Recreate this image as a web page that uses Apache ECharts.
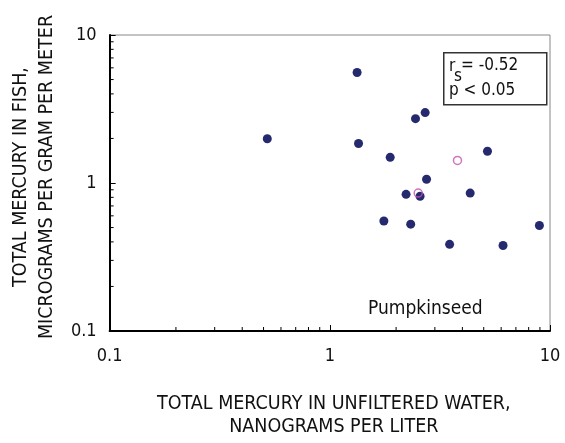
<!DOCTYPE html>
<html><head><meta charset="utf-8">
<script src="https://cdn.jsdelivr.net/npm/echarts@6/dist/echarts.min.js"></script>
<style>html,body{margin:0;padding:0;background:#fff}#c{width:565px;height:443px}</style>
</head><body><div id="c"></div>
<script>
const waterHgFilled = [1.33, 0.52, 1.35, 2.45, 2.71, 1.88, 5.2, 2.75, 2.22, 2.57, 4.34, 1.76, 2.33, 3.50, 6.12, 8.95];
const fishHgFilled  = [5.58, 1.99, 1.85, 2.72, 2.99, 1.49, 1.64, 1.06, 0.838, 0.813, 0.855, 0.554, 0.527, 0.385, 0.378, 0.516];
const waterHgOpen = [3.80, 2.52];
const fishHgOpen  = [1.42, 0.855];
const minorTickValues = [0.2,0.3,0.4,0.5,0.6,0.7,0.8,0.9,2,3,4,5,6,7,8,9];
const xTitle = 'TOTAL MERCURY IN UNFILTERED WATER,\nNANOGRAMS PER LITER';
const yTitle = 'TOTAL MERCURY IN FISH,\nMICROGRAMS PER GRAM PER METER';
const speciesLabel = 'Pumpkinseed';

const FONT = "'Liberation Sans Narrow','Arial Narrow','DejaVu Sans Condensed',sans-serif";
const chart = echarts.init(document.getElementById('c'), null, {renderer:'canvas'});
const zip = (a,b)=>a.map((v,i)=>[v,b[i]]);

chart.setOption({
  animation:false,
  grid:{left:109,top:35,width:441,height:301,show:true,borderColor:'#888',borderWidth:1,containLabel:false},
  xAxis:{type:'log',logBase:10,min:0.1,max:10,
    axisLine:{lineStyle:{color:'#000',width:2}},
    axisTick:{inside:true,length:6,lineStyle:{color:'#000',width:1}},
    axisLabel:{fontFamily:FONT,fontSize:18,color:'#111',margin:16,formatter:v=>String(v)},
    splitLine:{show:false},
    name:xTitle,nameLocation:'middle',nameGap:61,
    nameTextStyle:{fontFamily:FONT,fontSize:19.5,color:'#111',lineHeight:23,padding:[0,0,0,8]}},
  yAxis:{type:'log',logBase:10,min:0.1,max:10,
    axisLine:{lineStyle:{color:'#000',width:2}},
    axisTick:{inside:true,length:6,lineStyle:{color:'#000',width:1}},
    axisLabel:{fontFamily:FONT,fontSize:18,color:'#111',margin:13,formatter:v=>String(v)},
    splitLine:{show:false},
    name:yTitle,nameLocation:'middle',nameGap:47,nameRotate:90,
    nameTextStyle:{fontFamily:FONT,fontSize:19.5,color:'#111',lineHeight:26,padding:[0,0,0,12]}},
  series:[
    {type:'scatter',data:zip(waterHgFilled,fishHgFilled),symbol:'circle',symbolSize:9,
      itemStyle:{color:'#252a6e',opacity:1}},
    {type:'scatter',data:zip(waterHgOpen,fishHgOpen),symbol:'circle',symbolSize:8,
      itemStyle:{color:'rgba(0,0,0,0)',borderColor:'#c450b4',borderWidth:1.5}},
    {type:'custom',data:minorTickValues,silent:true,
      renderItem:(params,api)=>{
        const v=api.value(0);
        const px=api.coord([v,0.1]);
        const py=api.coord([0.1,v]);
        return {type:'group',children:[
          {type:'line',shape:{x1:px[0],y1:px[1],x2:px[0],y2:px[1]-4},style:{stroke:'#000',lineWidth:1}},
          {type:'line',shape:{x1:py[0],y1:py[1],x2:py[0]+4,y2:py[1]},style:{stroke:'#000',lineWidth:1}}
        ]};
      },encode:{x:0,y:0}}
  ],
  graphic:[
    {type:'rect',left:443,top:52,shape:{width:103,height:52},style:{fill:'#fff',stroke:'#333',lineWidth:1.5},z:10},
    {type:'text',left:449,top:58,style:{text:'r',font:"17px "+FONT,fill:'#111'},z:11},
    {type:'text',left:454,top:68,style:{text:'s',font:"17px "+FONT,fill:'#111'},z:11},
    {type:'text',left:461,top:57,style:{text:'= -0.52',font:"17px "+FONT,fill:'#111'},z:11},
    {type:'text',left:449,top:82,style:{text:'p < 0.05',font:"17px "+FONT,fill:'#111'},z:11},
    {type:'text',left:368,top:300,style:{text:speciesLabel,font:"19px "+FONT,fill:'#111'},z:11}
  ]
});
</script></body></html>
